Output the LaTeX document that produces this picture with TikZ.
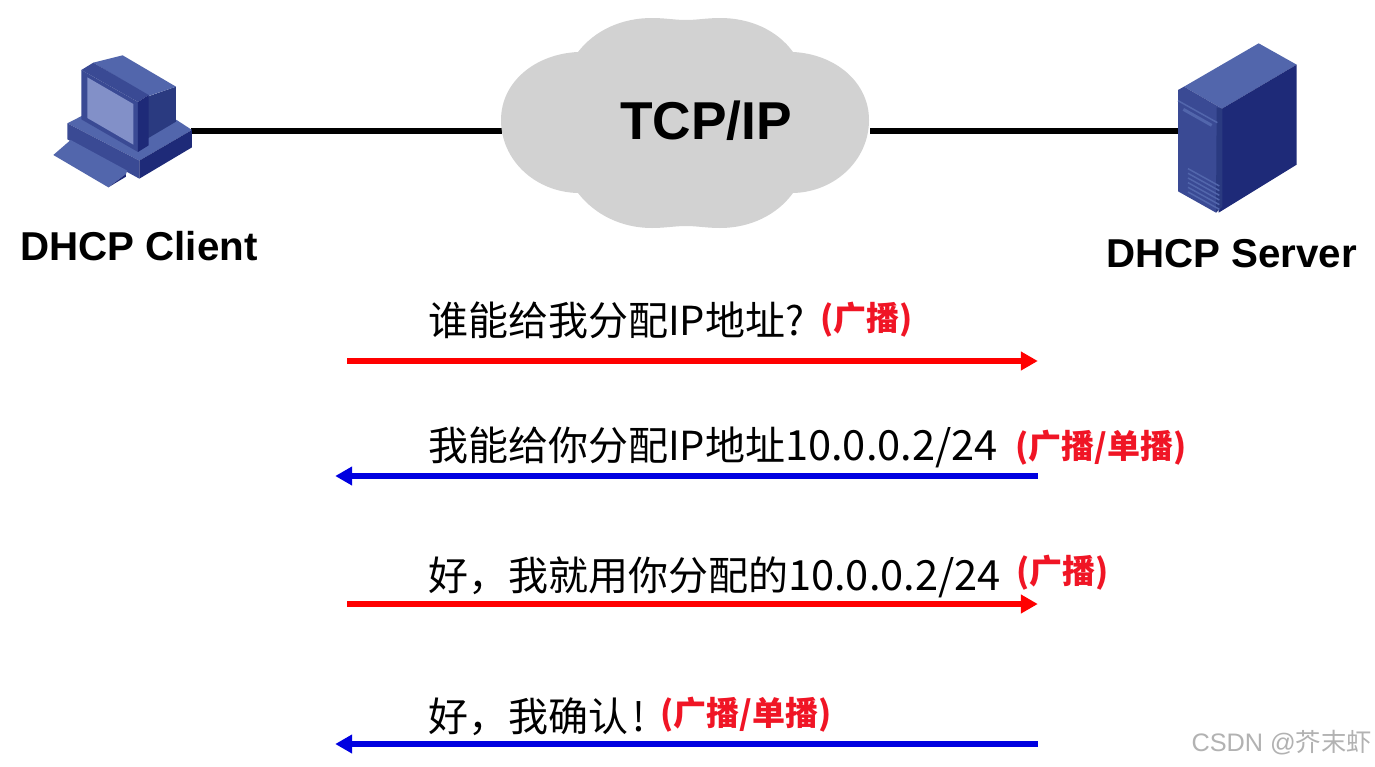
\documentclass[tikz,border=0pt]{standalone}
\usepackage{fontspec}
\setmainfont{Liberation Sans}
\newfontfamily\cjk{Noto Sans CJK SC}
\newcommand{\fsz}[1]{\fontsize{#1}{#1}\selectfont}
\newcommand{\dig}[1]{{\fsz{41.6}#1}}
\usetikzlibrary{arrows.meta}
\definecolor{bluemid}{HTML}{3A4A94}
\definecolor{bluelight}{HTML}{5266AC}
\definecolor{bluedark}{HTML}{1E2A78}
\definecolor{bluescreen}{HTML}{8290C8}
\definecolor{bluedeep}{HTML}{2A3A80}
\definecolor{cloudgray}{HTML}{D2D2D2}
\definecolor{tagred}{HTML}{F01525}
\tikzset{
 x=1pt,y=-1pt,
 link/.style={line width=5.5pt,black},
 lab/.style={font=\fsz{40.3}\bfseries,inner sep=0pt,anchor=west,black},
 msg/.style={font=\cjk\fsz{40},inner sep=0pt,anchor=west,black},
 tag/.style={font=\cjk\fsz{33}\bfseries,inner sep=0pt,anchor=west,tagred},
 req/.style={line width=5.5pt,red,-{Triangle[length=17pt,width=18pt]}},
 rep/.style={line width=5.5pt,blue!88!black,-{Triangle[length=17pt,width=18pt]}},
 anchorpt/.style={inner sep=0pt,minimum size=0pt},
}
\begin{document}
\begin{tikzpicture}
\useasboundingbox (0,0) rectangle (1375,766);
\fill[white] (0,0) rectangle (1375,766);

% connector end points
\node[anchorpt] (pc) at (191,131) {};
\node[anchorpt] (cloudL) at (502,131) {};
\node[anchorpt] (cloudR) at (870,131) {};
\node[anchorpt] (srv) at (1179,131) {};
\draw[link] (pc) -- (cloudL);
\draw[link] (cloudR) -- (srv);

% cloud
\fill[cloudgray] (578,52)
 .. controls (595,30) and (622,18) .. (652,18)
 .. controls (665,18) and (675,20) .. (686,20)
 .. controls (697,20) and (707,18) .. (720,18)
 .. controls (750,18) and (777,30) .. (793,52)
 .. controls (835,54) and (869,82) .. (869,120)
 .. controls (869,160) and (835,192) .. (793,193)
 .. controls (777,215) and (750,228) .. (720,228)
 .. controls (707,228) and (697,226) .. (686,226)
 .. controls (675,226) and (665,228) .. (652,228)
 .. controls (622,228) and (595,215) .. (578,193)
 .. controls (535,192) and (501,160) .. (501,120)
 .. controls (501,82) and (535,54) .. (578,52) -- cycle;
\node[font=\fsz{53.3}\bfseries,inner sep=0pt,black] (tcp) at (706,121) {TCP/IP};

% client computer (coordinates of a 3x crop at 40,40)
\begin{scope}[shift={(40,40)},x=0.3333pt,y=-0.3333pt]
 \fill[bluelight] (82,250) -- (125,228) -- (410,240) -- (456,270) -- (298,362) -- cycle;
 \fill[bluemid] (82,250) -- (298,362) -- (298,416) -- (82,298) -- cycle;
 \fill[bluedark] (298,362) -- (456,270) -- (456,322) -- (298,416) -- cycle;
 \fill[bluelight] (40,345) -- (92,300) -- (262,392) -- (258,402) -- (205,442) -- cycle;
 \fill[bluedark] (205,442) -- (258,402) -- (258,410) -- cycle;
 \fill[bluedeep] (322,170) -- (408,140) -- (408,245) -- (322,296) -- cycle;
 \fill[bluelight] (160,68) -- (248,46) -- (408,140) -- (326,168) -- cycle;
 \fill[bluemid] (124,90) -- (160,68) -- (326,165) -- (294,186) -- cycle;
 \fill[bluemid] (124,90) -- (294,186) -- (294,336) -- (124,238) -- cycle;
 \fill[bluedark] (294,186) -- (326,165) -- (326,316) -- (294,336) -- cycle;
 \fill[bluescreen] (142,112) -- (280,192) -- (280,314) -- (142,234) -- cycle;
\end{scope}

% server (coordinates of a 3x crop at 1160,30)
\begin{scope}[shift={(1160,30)},x=0.3333pt,y=-0.3333pt]
 \fill[bluelight] (72,170) -- (296,40) -- (410,104) -- (186,236) -- cycle;
 \fill[bluedark] (186,236) -- (410,104) -- (410,404) -- (176,548) -- cycle;
 \fill[bluemid] (54,180) -- (72,170) -- (186,236) -- (186,530) -- (168,548) -- (54,484) -- cycle;
 \fill[bluedeep] (170,232) -- (186,236) -- (186,530) -- (168,548) -- cycle;
 \draw[bluelight,line width=1.5pt] (54,212) -- (172,278);
 \draw[bluelight,line width=3pt] (70,238) -- (155,286);
 \foreach \d in {0,14,28,42,56,70} {
   \draw[bluelight,line width=1.5pt] (84,416+\d) -- (178,468+\d);
 }
\end{scope}

\node[lab] (client) at (20,246) {DHCP Client};
\node[lab] (server) at (1106,254) {DHCP Server};

% message arrows
\node[anchorpt] (a1) at (347,361) {};
\node[anchorpt] (b1) at (1038,361) {};
\node[anchorpt] (a2) at (1038,476) {};
\node[anchorpt] (b2) at (335,476) {};
\node[anchorpt] (a3) at (347,604) {};
\node[anchorpt] (b3) at (1038,604) {};
\node[anchorpt] (a4) at (1038,744) {};
\node[anchorpt] (b4) at (335,744) {};
\draw[req] (a1) -- (b1);
\draw[rep] (a2) -- (b2);
\draw[req] (a3) -- (b3);
\draw[rep] (a4) -- (b4);

\node[msg] (m1) at (428,320) {谁能给我分配IP地址?};
\node[tag] (t1) at (820,320) {(广播)};
\node[msg] (m2) at (428,447) {我能给你分配IP地址\dig{10.0.0.2/24}};
\node[tag] (t2) at (1015,448) {(广播/单播)};
\node[msg] (m3) at (428,577) {好，我就用你分配的\dig{10.0.0.2/24}};
\node[tag] (t3) at (1016,573) {(广播)};
\node[msg] (m4) at (428,717) {好，我确认\hspace{4pt}!};
\node[tag] (t4) at (660,715) {(广播/单播)};

\node[font=\cjk\fsz{25.3},inner sep=0pt,anchor=east,gray!60] (wm) at (1372,743) {{\rmfamily CSDN @}芥末虾};
\end{tikzpicture}
\end{document}
